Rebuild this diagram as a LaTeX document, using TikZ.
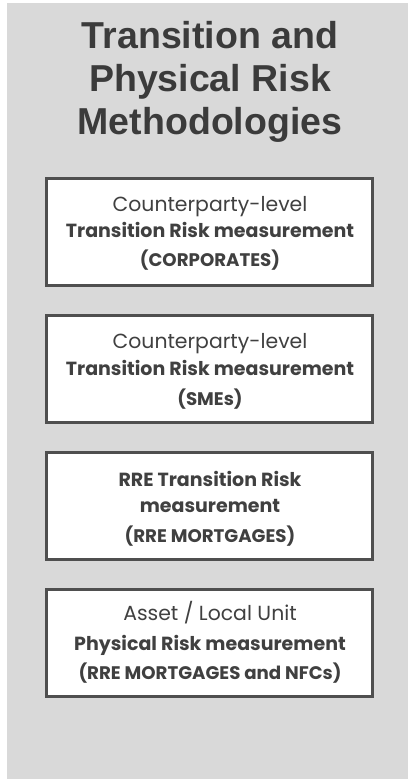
\documentclass[tikz,border=0pt]{standalone}
\usepackage{fontspec}
\setmainfont{Poppins}
\newfontfamily\titlefont{Liberation Sans}
\definecolor{panelgray}{HTML}{D9D9D9}
\definecolor{titlecol}{HTML}{3B3B3B}
\definecolor{textcol}{HTML}{404040}
\definecolor{bordercol}{HTML}{4F4F4F}
\tikzset{
  titletext/.style={anchor=base, inner sep=0pt, text=titlecol, font=\titlefont\bfseries\fontsize{37.5}{43}\selectfont},
  methodbox/.style={draw=bordercol, line width=3pt, fill=white, minimum width=326pt, minimum height=107pt, inner sep=0pt},
  lightline/.style={anchor=base, inner sep=0pt, text=textcol, font=\fontsize{20.4}{24}\selectfont},
  boldline/.style={anchor=base, inner sep=0pt, text=textcol, font=\bfseries\fontsize{19}{23}\selectfont},
  scopeline/.style={anchor=base, inner sep=0pt, text=textcol, font=\bfseries\fontsize{18.2}{22}\selectfont}
}
\begin{document}
\begin{tikzpicture}[x=1pt,y=-1pt]
\useasboundingbox (0,0) rectangle (408,779);
\fill[panelgray] (7,3) rectangle (408,779);
\node[titletext] (t1) at (210,48) {Transition and};
\node[titletext] (t2) at (210,91) {Physical Risk};
\node[titletext] (t3) at (210,134) {Methodologies};

\node[methodbox] (b1) at (209.5,232) {};
\node[methodbox] (b2) at (209.5,368.5) {};
\node[methodbox] (b3) at (209.5,505.5) {};
\node[methodbox] (b4) at (209.5,642.5) {};

\node[lightline] (b1a) at (210,211) {Counterparty-level};
\node[boldline] (b1b) at (210,237) {Transition Risk measurement};
\node[scopeline] (b1c) at (210,266) {(CORPORATES)};

\node[lightline] (b2a) at (210,348) {Counterparty-level};
\node[boldline] (b2b) at (210,375) {Transition Risk measurement};
\node[scopeline] (b2c) at (210,405) {(SMEs)};

\node[boldline] (b3a) at (210,486) {RRE Transition Risk};
\node[boldline] (b3b) at (210,512) {measurement};
\node[scopeline] (b3c) at (210,542) {(RRE MORTGAGES)};

\node[lightline] (b4a) at (210,620) {Asset / Local Unit};
\node[boldline] (b4b) at (210,650) {Physical Risk measurement};
\node[scopeline] (b4c) at (210,679) {(RRE MORTGAGES and NFCs)};
\end{tikzpicture}
\end{document}
